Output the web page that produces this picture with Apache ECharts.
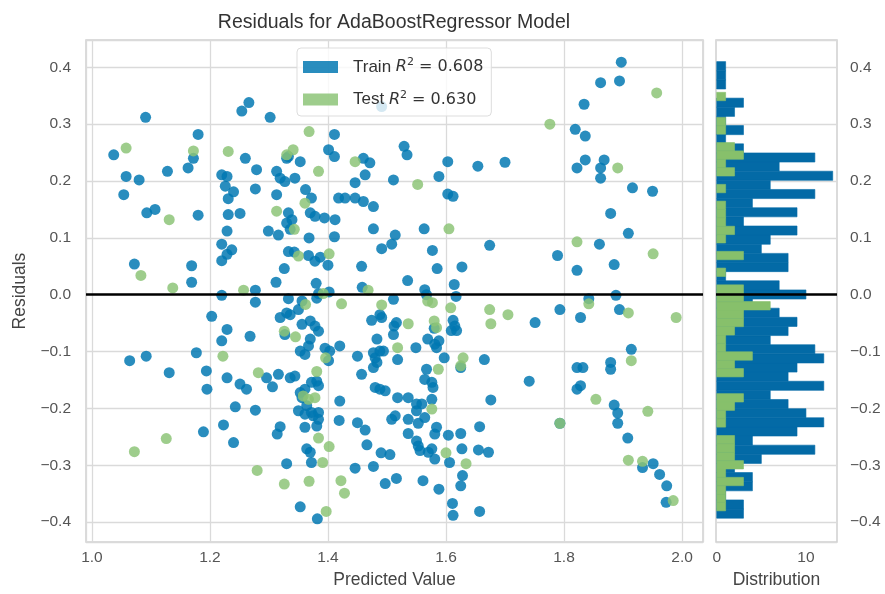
<!DOCTYPE html>
<html><head><meta charset="utf-8">
<script src="https://cdn.jsdelivr.net/npm/echarts@6/dist/echarts.min.js"></script>
<style>html,body{margin:0;padding:0;background:#fff}#c{width:885px;height:594px}</style>
</head><body><div id="c"></div>
<script>
// ---------- data ----------
const trainPoints = [
[1.091,0.312],[1.266,0.338],[1.254,0.323],[1.302,0.312],[1.180,0.282],[1.037,0.246],[1.172,0.240],[1.260,0.240],[1.163,0.223],[1.128,0.217],[1.058,0.208],[1.080,0.202],[1.054,0.176],[1.279,0.220],[1.220,0.211],[1.229,0.208],[1.226,0.191],[1.240,0.181],[1.231,0.169],[1.277,0.186],[1.313,0.217],[1.319,0.205],[1.327,0.199],[1.313,0.176],[1.330,0.240],
[1.411,0.282],[1.333,0.243],[1.353,0.234],[1.401,0.255],[1.411,0.243],[1.460,0.240],[1.471,0.232],[1.463,0.211],[1.446,0.197],[1.511,0.202],[1.529,0.261],[1.534,0.246],[1.603,0.234],[1.588,0.208],[1.654,0.226],[1.603,0.177],[1.612,0.173],[1.344,0.205],[1.362,0.185],[1.372,0.170],[1.418,0.170],[1.429,0.170],[1.446,0.170],[1.460,0.164],[1.477,0.155],[1.491,0.331],
[1.897,0.409],[1.862,0.373],[1.894,0.376],[1.834,0.335],[1.819,0.291],[1.836,0.279],[1.700,0.233],[1.836,0.237],[1.822,0.223],[1.868,0.237],[1.862,0.223],[1.862,0.205],[1.916,0.188],[1.950,0.182],
[1.093,0.144],[1.107,0.150],[1.180,0.140],[1.231,0.141],[1.251,0.143],[1.229,0.112],[1.299,0.112],[1.316,0.105],[1.220,0.089],[1.237,0.079],[1.229,0.071],[1.220,0.060],[1.072,0.054],[1.169,0.051],[1.169,0.022],[1.326,0.046],[1.312,0.022],[1.333,0.076],[1.330,0.126],[1.277,0.008],[1.277,-0.013],[1.220,-0.001],[1.203,-0.038],[1.319,-0.040],[1.330,-0.032],[1.229,-0.061],[1.220,-0.081],[1.268,-0.073],[1.327,-0.070],[1.064,-0.116],[1.092,-0.108],[1.177,-0.102],[1.131,-0.137],[1.194,-0.134],[1.229,-0.146],[1.316,-0.140],[1.296,-0.146],
[1.195,-0.166],[1.251,-0.157],[1.262,-0.166],[1.306,-0.162],[1.336,-0.146],[1.243,-0.197],[1.277,-0.203],[1.189,-0.241],[1.223,-0.229],[1.240,-0.260],[1.319,-0.232],[1.314,-0.245],[1.330,-0.297],
[1.333,0.144],[1.339,0.132],[1.370,0.144],[1.378,0.138],[1.394,0.135],[1.412,0.132],[1.477,0.116],[1.563,0.116],[1.336,0.115],[1.368,0.100],[1.411,0.102],[1.514,0.105],[1.508,0.089],[1.491,0.081],[1.674,0.087],[1.577,0.078],[1.343,0.075],[1.367,0.069],[1.378,0.059],[1.387,0.066],[1.400,0.052],[1.457,0.050],[1.585,0.046],[1.627,0.049],[1.535,0.025],[1.380,0.020],[1.384,0.002],[1.381,-0.006],[1.402,0.005],[1.458,0.013],[1.564,0.009],[1.567,0.000],[1.614,0.018],[1.617,-0.003],[1.333,-0.007],[1.356,-0.011],[1.350,-0.026],[1.336,-0.035],[1.511,-0.008],[1.474,-0.045],[1.491,-0.040],[1.488,-0.035],[1.516,-0.049],[1.512,-0.055],[1.511,-0.070],[1.580,-0.059],[1.612,-0.045],[1.615,-0.055],[1.609,-0.063],[1.618,-0.063],[1.356,-0.052],[1.370,-0.046],[1.378,-0.055],[1.384,-0.064],[1.370,-0.078],[1.367,-0.090],[1.353,-0.099],[1.361,-0.105],[1.395,-0.094],[1.403,-0.099],[1.420,-0.090],[1.401,-0.116],[1.450,-0.108],[1.477,-0.102],[1.480,-0.111],[1.483,-0.119],[1.488,-0.099],[1.494,-0.099],[1.477,-0.128],[1.483,-0.078],[1.518,-0.114],[1.549,-0.093],[1.569,-0.078],[1.581,-0.087],[1.588,-0.081],[1.584,-0.093],[1.597,-0.111],[1.625,-0.128],[1.665,-0.114],[1.567,-0.131],[1.457,-0.140],[1.344,-0.143],
[1.372,-0.154],[1.381,-0.152],[1.384,-0.160],[1.353,-0.172],[1.361,-0.166],[1.356,-0.181],[1.364,-0.195],[1.350,-0.204],[1.361,-0.210],[1.372,-0.207],[1.384,-0.207],[1.375,-0.213],[1.384,-0.219],[1.381,-0.231],[1.361,-0.233],[1.420,-0.187],[1.419,-0.221],[1.364,-0.271],[1.370,-0.277],[1.372,-0.295],[1.353,-0.373],[1.382,-0.394],[1.446,-0.305],[1.450,-0.225],[1.463,-0.238],[1.466,-0.264],[1.477,-0.302],[1.490,-0.278],[1.505,-0.281],[1.497,-0.332],[1.516,-0.323],[1.480,-0.163],[1.488,-0.166],[1.497,-0.169],[1.518,-0.181],[1.536,-0.181],[1.550,-0.192],[1.559,-0.192],[1.564,-0.149],[1.576,-0.154],[1.578,-0.163],[1.576,-0.184],[1.508,-0.219],[1.514,-0.213],[1.536,-0.219],[1.553,-0.226],[1.564,-0.216],[1.550,-0.204],[1.536,-0.244],[1.550,-0.257],[1.553,-0.266],[1.556,-0.274],[1.570,-0.277],[1.576,-0.271],[1.581,-0.289],[1.584,-0.233],[1.581,-0.245],[1.604,-0.247],[1.606,-0.295],[1.561,-0.327],[1.588,-0.342],[1.625,-0.244],[1.627,-0.271],[1.628,-0.318],[1.625,-0.336],[1.611,-0.367],[1.612,-0.388],[1.657,-0.232],[1.655,-0.273],[1.672,-0.277],[1.657,-0.381],[1.676,-0.185],
[1.879,0.143],[1.909,0.108],[1.860,0.089],[1.789,0.069],[1.885,0.053],[1.822,0.043],[1.842,-0.007],[1.888,-0.001],[1.793,-0.026],[1.828,-0.040],[1.894,-0.026],[1.751,-0.049],[1.914,-0.096],[1.822,-0.128],[1.832,-0.128],[1.879,-0.119],[1.879,-0.131],
[1.741,-0.152],[1.822,-0.166],[1.828,-0.160],[1.885,-0.194],[1.891,-0.208],[1.891,-0.226],[1.793,-0.226],[1.908,-0.252],[1.933,-0.304],[1.951,-0.297],[1.962,-0.316],[1.974,-0.336],[1.973,-0.365]
];
const testPoints = [
[1.058,0.258],[1.172,0.253],[1.231,0.252],[1.330,0.246],
[1.368,0.287],[1.341,0.255],[1.446,0.234],[1.384,0.217],[1.552,0.194],[1.361,0.161],
[1.957,0.355],[1.776,0.300],[1.891,0.223],
[1.131,0.132],[1.313,0.147],[1.083,0.034],[1.137,0.012],[1.257,0.008],[1.326,-0.064],[1.222,-0.108],[1.282,-0.137],
[1.126,-0.253],[1.072,-0.276],[1.280,-0.309],[1.326,-0.333],
[1.605,0.116],[1.343,0.115],[1.350,0.068],[1.402,0.072],[1.392,0.002],[1.468,0.008],[1.362,-0.017],[1.423,-0.016],[1.491,-0.018],[1.569,-0.011],[1.577,-0.014],[1.608,-0.023],[1.674,-0.026],[1.536,-0.051],[1.580,-0.046],[1.584,-0.058],[1.676,-0.051],[1.345,-0.074],[1.396,-0.111],[1.518,-0.093],[1.629,-0.111],[1.625,-0.125],[1.587,-0.131],[1.381,-0.135],
[1.358,-0.178],[1.367,-0.184],[1.378,-0.181],[1.384,-0.252],[1.402,-0.267],[1.391,-0.295],[1.368,-0.328],[1.397,-0.381],[1.422,-0.327],[1.428,-0.349],[1.576,-0.201],[1.600,-0.278],[1.634,-0.297],
[1.822,0.093],[1.951,0.072],[1.842,-0.016],[1.909,-0.032],[1.990,-0.040],[1.705,-0.035],[1.914,-0.116],
[1.854,-0.184],[1.942,-0.205],[1.793,-0.226],[1.909,-0.291],[1.933,-0.293],[1.985,-0.362]
];
// histogram: 50 bins each, counts listed from lowest residual to highest
const trainHistRange = [-0.393, 0.410];
const trainHistCounts = [3,3,1,4,4,2,5,11,4,9, 12,10,8,6,12,8,9,12,11,6, 8,9,7,4,10,7,1,8,8,5, 6,9,3,9,4,11,6,13,7,11, 3,1,3,1,2,3,0,1,1,1];
const testHistRange = [-0.380, 0.356];
const testHistCounts = [1,1,1,3,1,3,2,2,2,0, 1,1,2,3,0,0,3,2,4,1, 1,2,3,3,6,3,3,0,1,0, 3,0,1,2,1,1,1,0,1,0, 2,1,3,2,0,1,1,0,0,1];
const trainR2 = '0.608';
const testR2 = '0.630';
const titleText = 'Residuals for AdaBoostRegressor Model';

// ---------- styles ----------
const BLUE_DOT = '#0077b2', GREEN_DOT = '#8cc476';
const BLUE_BAR = '#036aa6', GREEN_BAR = '#87c06b';
const GRID_C = '#dadada', BORDER_C = '#cfcfcf';
const FONT = 'Liberation Sans';
const MINUS = '\u2212';

function binRows(counts, range) {
  const w = (range[1] - range[0]) / counts.length;
  const rows = [];
  counts.forEach((c, i) => { if (c > 0) rows.push([range[0] + i * w, range[0] + (i + 1) * w, c]); });
  return rows;
}
function histRender(color) {
  return function (params, api) {
    const y0 = api.value(0), y1 = api.value(1), c = api.value(2);
    const a = api.coord([0, y1]), b = api.coord([c, y0]);
    return { type: 'rect', shape: { x: a[0], y: a[1], width: b[0] - a[0], height: b[1] - a[1] },
      style: { fill: color, stroke: color, lineWidth: 0.6 } };
  };
}
function fmtTenth(v) {
  if (Math.abs(v * 10 - Math.round(v * 10)) > 1e-6) return '';
  const s = Math.abs(v).toFixed(1);
  return (v < -1e-9 ? MINUS : '') + s;
}

const yMin = -0.435, yMax = 0.448;
const axisLabelStyle = { color: '#555', fontSize: 15.5, fontFamily: FONT };

const chart = echarts.init(document.getElementById('c'), null, { renderer: 'canvas' });
chart.setOption({
  animation: false,
  backgroundColor: '#fff',
  title: { text: titleText, left: 389, top: 8, textAlign: 'center',
    textStyle: { fontSize: 19.5, fontWeight: 'normal', color: '#333', fontFamily: FONT } },
  legend: {
    data: ['Train', 'Test'], orient: 'vertical', left: 297, top: 48,
    padding: [9, 8, 8, 6], itemWidth: 35, itemHeight: 12, itemGap: 14,
    icon: 'rect', backgroundColor: 'rgba(255,255,255,0.8)', borderColor: '#dddddd', borderWidth: 1, borderRadius: 4,
    formatter: function (n) { return '{t|' + n + ' }{r|R}{s|2}{m| = ' + (n === 'Train' ? trainR2 : testR2) + '}'; },
    textStyle: { padding: [0, 0, 0, 10], rich: {
      t: { fontSize: 17, color: '#333', fontFamily: FONT, lineHeight: 20 },
      r: { fontSize: 16, color: '#333', fontFamily: 'DejaVu Sans', fontStyle: 'italic', lineHeight: 20 },
      s: { fontSize: 11, color: '#333', fontFamily: 'DejaVu Sans', lineHeight: 12, verticalAlign: 'top' },
      m: { fontSize: 16, color: '#333', fontFamily: 'DejaVu Sans', lineHeight: 20 }
    } }
  },
  grid: [
    { left: 86, top: 40, width: 617, height: 503, show: true, borderColor: BORDER_C, borderWidth: 1.5, containLabel: false },
    { left: 716, top: 40, width: 121, height: 503, show: true, borderColor: BORDER_C, borderWidth: 1.5, containLabel: false }
  ],
  xAxis: [
    { type: 'value', gridIndex: 0, min: 0.990, max: 2.0355, splitNumber: 5, minInterval: 0.2, maxInterval: 0.2,
      axisLine: { show: false }, axisTick: { show: false },
      axisLabel: Object.assign({ margin: 8, showMinLabel: false, showMaxLabel: false,
        formatter: v => (Math.abs(v - Math.round(v * 5) / 5) < 1e-6 ? v.toFixed(1) : '') }, axisLabelStyle),
      splitLine: { show: true, lineStyle: { color: GRID_C, width: 1.3 } },
      name: 'Predicted Value', nameLocation: 'middle', nameGap: 28,
      nameTextStyle: { fontSize: 17.5, color: '#444', fontFamily: FONT } },
    { type: 'value', gridIndex: 1, min: -0.08, max: 13.48, splitNumber: 1, minInterval: 10, maxInterval: 10,
      axisLine: { show: false }, axisTick: { show: false },
      axisLabel: Object.assign({ margin: 8, showMinLabel: false, showMaxLabel: false,
        formatter: v => (Math.abs(v % 10) < 1e-6 ? String(Math.round(v)) : '') }, axisLabelStyle),
      splitLine: { show: false },
      name: 'Distribution', nameLocation: 'middle', nameGap: 28,
      nameTextStyle: { fontSize: 17.5, color: '#444', fontFamily: FONT } }
  ],
  yAxis: [
    { type: 'value', gridIndex: 0, min: yMin, max: yMax, splitNumber: 9, minInterval: 0.1, maxInterval: 0.1,
      axisLine: { show: false }, axisTick: { show: false },
      axisLabel: Object.assign({ margin: 15, showMinLabel: false, showMaxLabel: false, formatter: fmtTenth }, axisLabelStyle),
      splitLine: { show: true, lineStyle: { color: GRID_C, width: 1.3 } },
      name: 'Residuals', nameLocation: 'middle', nameGap: 54, nameRotate: 90,
      nameTextStyle: { fontSize: 17.5, color: '#444', fontFamily: FONT } },
    { type: 'value', gridIndex: 1, position: 'right', min: yMin, max: yMax, splitNumber: 9, minInterval: 0.1, maxInterval: 0.1,
      axisLine: { show: false }, axisTick: { show: false },
      axisLabel: Object.assign({ margin: 13, showMinLabel: false, showMaxLabel: false, formatter: fmtTenth }, axisLabelStyle),
      splitLine: { show: true, lineStyle: { color: GRID_C, width: 1.3 } } }
  ],
  series: [
    { name: 'Train', type: 'scatter', xAxisIndex: 0, yAxisIndex: 0, data: trainPoints, symbolSize: 11,
      itemStyle: { color: BLUE_DOT, opacity: 0.84 }, z: 2 },
    { name: 'Test', type: 'scatter', xAxisIndex: 0, yAxisIndex: 0, data: testPoints, symbolSize: 11,
      itemStyle: { color: GREEN_DOT, opacity: 0.84 }, z: 3 },
    { name: 'zero', type: 'line', xAxisIndex: 0, yAxisIndex: 0, data: [], z: 6, silent: true,
      markLine: { silent: true, symbol: 'none', label: { show: false }, animation: false,
        lineStyle: { color: '#000', width: 2.5, type: 'solid' }, data: [{ yAxis: 0 }] } },
    { name: 'trainHist', type: 'custom', xAxisIndex: 1, yAxisIndex: 1, data: binRows(trainHistCounts, trainHistRange),
      encode: { x: 2, y: [0, 1] }, renderItem: histRender(BLUE_BAR), z: 2 },
    { name: 'testHist', type: 'custom', xAxisIndex: 1, yAxisIndex: 1, data: binRows(testHistCounts, testHistRange),
      encode: { x: 2, y: [0, 1] }, renderItem: histRender(GREEN_BAR), z: 3 },
    { name: 'zeroHist', type: 'line', xAxisIndex: 1, yAxisIndex: 1, data: [], z: 6, silent: true,
      markLine: { silent: true, symbol: 'none', label: { show: false }, animation: false,
        lineStyle: { color: '#000', width: 2.5, type: 'solid' }, data: [{ yAxis: 0 }] } }
  ]
});
</script></body></html>
